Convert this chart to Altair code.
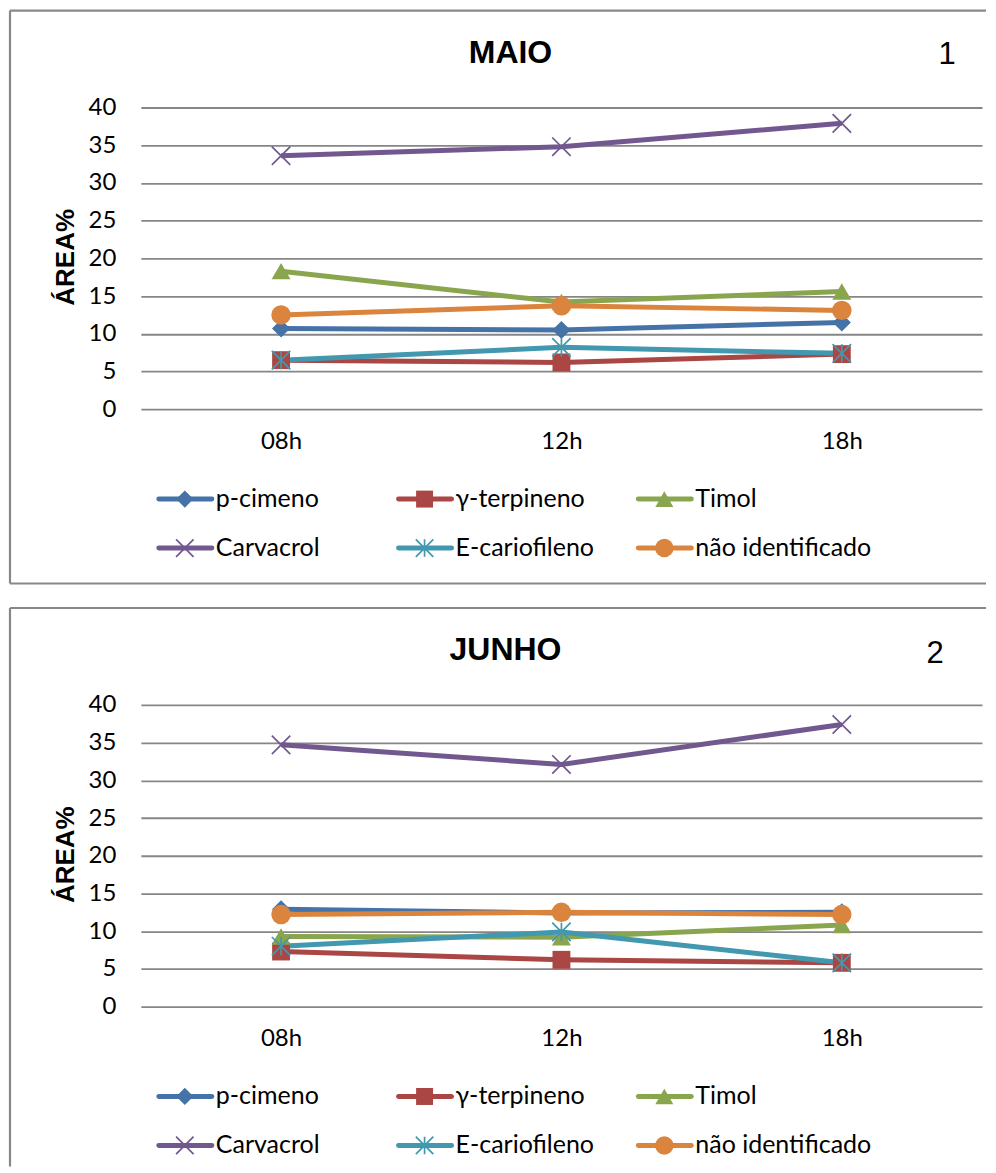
import altair as alt
import pandas as pd

hours = ["08h", "12h", "18h"]
series = ["p-cimeno", "γ-terpineno", "Timol", "Carvacrol", "E-cariofileno", "não identificado"]
colors = ["#4572A7", "#AA4643", "#89A54E", "#71588F", "#4198AF", "#DB843D"]
y_ticks = [0, 5, 10, 15, 20, 25, 30, 35, 40]

# MAIO (1)
maio_p_cimeno = [10.7, 10.5, 11.5]
maio_g_terpineno = [6.5, 6.2, 7.3]
maio_timol = [18.3, 14.2, 15.6]
maio_carvacrol = [33.6, 34.8, 37.9]
maio_e_cariofileno = [6.5, 8.2, 7.4]
maio_nao_ident = [12.5, 13.7, 13.1]

# JUNHO (2)
junho_p_cimeno = [12.9, 12.4, 12.5]
junho_g_terpineno = [7.3, 6.2, 5.8]
junho_timol = [9.3, 9.2, 10.8]
junho_carvacrol = [34.7, 32.1, 37.4]
junho_e_cariofileno = [8.0, 9.9, 5.8]
junho_nao_ident = [12.2, 12.5, 12.2]

maio = [maio_p_cimeno, maio_g_terpineno, maio_timol, maio_carvacrol, maio_e_cariofileno, maio_nao_ident]
junho = [junho_p_cimeno, junho_g_terpineno, junho_timol, junho_carvacrol, junho_e_cariofileno, junho_nao_ident]

X_PATH = "M-1,-1L1,1M-1,1L1,-1"
AST_PATH = "M-1,-1L1,1M-1,1L1,-1M0,-1L0,1"
marker_shape = ["diamond", "square", "triangle-up", X_PATH, AST_PATH, "circle"]
marker_size = [330, 320, 360, 340, 340, 380]
marker_filled = [True, True, True, False, False, True]

legend_col = [0, 1, 2, 0, 1, 2]
legend_row = [0, 0, 0, 1, 1, 1]

W, H = 842, 302
TICK_FONT = "Lato"
HEAD_FONT = "Liberation Sans"
BORDER = "#888888"


def long_df(values):
    rows = []
    for name, vals in zip(series, values):
        for h, v in zip(hours, vals):
            rows.append({"series": name, "hour": h, "value": v})
    return pd.DataFrame(rows)


legend_df = pd.DataFrame({"series": series, "lcol": legend_col, "lrow": legend_row})

color_scale = alt.Scale(domain=series, range=colors)
one = alt.Data(values=[{}])


def x_enc(axis=None):
    return alt.X("hour:N", sort=hours,
                 scale=alt.Scale(type="point", domain=hours, padding=0.5),
                 axis=axis)


def y_enc(axis=None):
    return alt.Y("value:Q", scale=alt.Scale(domain=[0, 40], nice=False, zero=True), axis=axis)


def panel(values, title, title_x, num, num_x, num_y, bottom_border, left_end):
    df = long_df(values)
    layers = []

    # border lines of the chart box
    layers.append(alt.Chart(one).mark_rule(color=BORDER, strokeWidth=2.2).encode(
        x=alt.value(-131), x2=alt.value(846), y=alt.value(-97)))
    layers.append(alt.Chart(one).mark_rule(color=BORDER, strokeWidth=2.2).encode(
        x=alt.value(-131), y=alt.value(-97), y2=alt.value(left_end)))
    if bottom_border is not None:
        layers.append(alt.Chart(one).mark_rule(color=BORDER, strokeWidth=2.2).encode(
            x=alt.value(-131), x2=alt.value(846), y=alt.value(bottom_border)))

    x_axis = alt.Axis(title=None, domain=False, ticks=False, grid=False, labelPadding=20,
                      labelFont=TICK_FONT, labelFontSize=24, labelColor="black", labelAngle=0)
    y_axis = alt.Axis(title=None, domain=False, ticks=False, grid=True, values=y_ticks,
                      labelPadding=25, labelFont=TICK_FONT, labelFontSize=24, labelColor="black",
                      gridColor="#868686", gridWidth=1.8)

    lines = alt.Chart(df).mark_line(strokeWidth=5, strokeJoin="round").encode(
        x=x_enc(x_axis), y=y_enc(y_axis),
        color=alt.Color("series:N", scale=color_scale, legend=None),
        detail="series:N")
    layers.append(lines)

    for i, name in enumerate(series):
        filled = marker_filled[i]
        mk = alt.Chart(df).transform_filter(alt.datum.series == name).mark_point(
            shape=marker_shape[i], size=marker_size[i], filled=filled, opacity=1,
            strokeWidth=(1.7 if not filled else 0), color=colors[i]).encode(
            x=x_enc(), y=y_enc())
        layers.append(mk)

    # legend
    lx = alt.X("lcol:Q", scale=alt.Scale(domain=[0, 2], range=[44, 524]), axis=None)
    ly = alt.Y("lrow:Q", scale=alt.Scale(domain=[0, 1], range=[392, 441]), axis=None)
    layers.append(alt.Chart(legend_df).mark_rule(strokeWidth=5, strokeCap="round",
                                                 xOffset=-26, x2Offset=27).encode(
        x=lx, x2="lcol", y=ly, color=alt.Color("series:N", scale=color_scale, legend=None)))
    for i, name in enumerate(series):
        filled = marker_filled[i]
        layers.append(alt.Chart(legend_df).transform_filter(alt.datum.series == name).mark_point(
            shape=marker_shape[i], size=marker_size[i] * 0.9, filled=filled, opacity=1,
            strokeWidth=(1.7 if not filled else 0), color=colors[i]).encode(x=lx, y=ly))
    layers.append(alt.Chart(legend_df).mark_text(
        align="left", baseline="middle", dx=31, font=TICK_FONT, fontSize=25, color="black").encode(
        x=lx, y=ly, text="series:N"))

    # texts
    layers.append(alt.Chart(one).mark_text(
        font=HEAD_FONT, fontSize=32, fontWeight="bold", color="black", baseline="middle").encode(
        x=alt.value(title_x), y=alt.value(-55), text=alt.value(title)))
    layers.append(alt.Chart(one).mark_text(
        font=HEAD_FONT, fontSize=31, color="black", baseline="middle").encode(
        x=alt.value(num_x), y=alt.value(num_y), text=alt.value(num)))
    layers.append(alt.Chart(one).mark_text(
        font=HEAD_FONT, fontSize=26, fontWeight="bold", color="black", baseline="middle",
        angle=270).encode(
        x=alt.value(-75), y=alt.value(150), text=alt.value("ÁREA%")))

    return alt.layer(*layers).resolve_scale(x="independent", y="independent").properties(
        width=W, height=H)


p1 = panel(maio, "MAIO", 370, "1", 807, -53, 476.5, 476.5)
p2 = panel(junho, "JUNHO", 365, "2", 795, -51, None, 462)

chart = alt.vconcat(p1, p2, spacing=296, bounds="flush").configure_view(
    strokeWidth=0).properties(padding=0, background="white")

chart.save("out.html", embed_options={"renderer": "svg", "actions": False})
